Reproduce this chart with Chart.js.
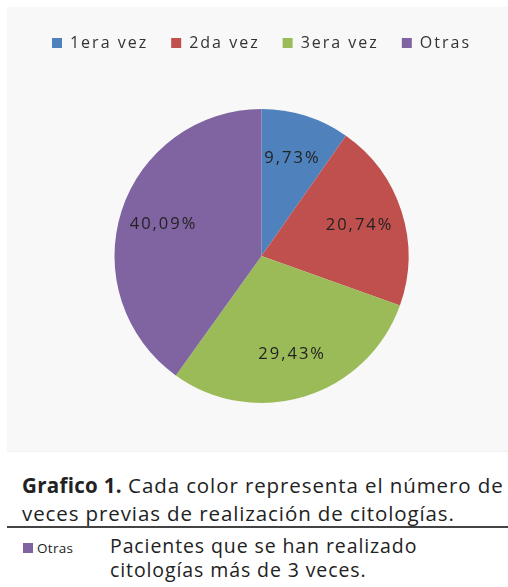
<!DOCTYPE html>
<html>
<head>
<meta charset="utf-8">
<script src="https://cdn.jsdelivr.net/npm/chart.js@4.4.0/dist/chart.umd.min.js"></script>
<style>
  body { margin: 0; background: #fff; font-family: "Open Sans", sans-serif; color: #222; }
  #box { position: absolute; left: 7px; top: 7px; width: 501px; height: 444px; background: #f8f8f8; border-bottom: 1px solid #eef2f6; }
  #caption { position: absolute; left: 22px; top: 471px; width: 486px; font-size: 20.5px; letter-spacing: 0.9px; line-height: 28px; color: #222; white-space: nowrap; }
  #caption b { letter-spacing: 0.3px; }
  #rule { position: absolute; left: 7px; top: 526px; width: 501px; height: 2px; background: #444; }
  #key { position: absolute; left: 23px; top: 534px; font-size: 19.5px; letter-spacing: 0.9px; line-height: 24px; }
  #key .sw { display: inline-block; width: 10px; height: 10px; background: #8064a2; margin-right: 4px; }
  #key .nm { display: inline-block; width: 70px; font-size: 13.5px; letter-spacing: 0.3px; }
  #key .txt { position: absolute; left: 87px; top: 0; width: 420px; white-space: nowrap; }
</style>
</head>
<body>
<div id="box"><canvas id="myChart" width="501" height="444"></canvas></div>
<div id="caption"><b>Grafico 1.</b> Cada color representa el número de<br>veces previas de realización de citologías.</div>
<div id="rule"></div>
<div id="key"><span class="sw"></span><span class="nm">Otras</span><div class="txt">Pacientes que se han realizado<br>citologías más de 3 veces.</div></div>
<script>
var labels = ['1era vez', '2da vez', '3era vez', 'Otras'];
var values = [9.73, 20.74, 29.43, 40.09];
var colors = ['#4f81bd', '#c0504d', '#9bbb59', '#8064a2'];

// the original text is wide (Calibri look), so space the canvas letters out
var spacing = {
    id: 'spacing',
    beforeUpdate: function (chart) { chart.ctx.letterSpacing = '2px'; },
    beforeDraw: function (chart) { chart.ctx.letterSpacing = '2px'; }
};

// labels drawn inside each slice, at 70% of the radius
var sliceLabels = {
    id: 'sliceLabels',
    afterDatasetsDraw: function (chart) {
        var ctx = chart.ctx;
        var meta = chart.getDatasetMeta(0);
        ctx.save();
        ctx.letterSpacing = '2px';
        ctx.font = '16.5px "Open Sans"';
        ctx.fillStyle = '#222';
        ctx.textAlign = 'center';
        ctx.textBaseline = 'middle';
        meta.data.forEach(function (arc, i) {
            var p = arc.getProps(['x', 'y', 'startAngle', 'endAngle', 'outerRadius'], true);
            var mid = (p.startAngle + p.endAngle) / 2;
            var r = p.outerRadius * 0.7;
            var txt = values[i].toFixed(2).replace('.', ',') + '%';
            ctx.fillText(txt, p.x + Math.cos(mid) * r, p.y + Math.sin(mid) * r);
        });
        ctx.restore();
    }
};

var ctx = document.getElementById('myChart').getContext('2d');
var myChart = new Chart(ctx, {
    type: 'pie',
    data: {
        labels: labels,
        datasets: [{
            data: values,
            backgroundColor: colors,
            borderWidth: 0,
            radius: 147
        }]
    },
    options: {
        responsive: false,
        animation: false,
        layout: { padding: { top: 5, bottom: 0, left: 8 } },
        plugins: {
            legend: {
                position: 'top',
                labels: {
                    boxWidth: 10,
                    boxHeight: 10,
                    padding: 23,
                    color: '#333',
                    font: { family: 'Open Sans', size: 16 }
                }
            },
            tooltip: { enabled: false }
        }
    },
    plugins: [spacing, sliceLabels]
});
</script>
</body>
</html>
